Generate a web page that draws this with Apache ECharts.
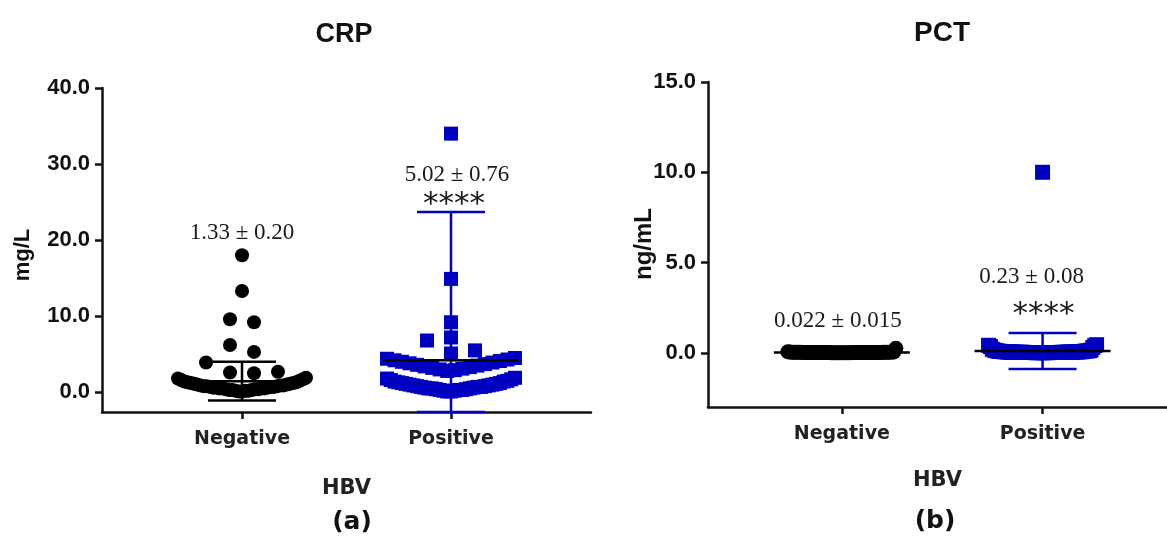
<!DOCTYPE html>
<html>
<head>
<meta charset="utf-8">
<script src="https://cdn.jsdelivr.net/npm/echarts@6/dist/echarts.min.js"></script>
<style>
  html, body { margin: 0; padding: 0; background: #fff; }
  #chart { width: 1167px; height: 547px; }
</style>
</head>
<body>
<div id="chart"></div>
<script>
// groups on the x axis
var groups = ['Negative', 'Positive'];

// CRP (mg/L), one value per patient
var crpNegative = [0.1, 0.1, 0.2, 0.2, 0.2, 0.3, 0.3, 0.3, 0.4, 0.4, 0.4, 0.5, 0.5, 0.5, 0.5,
    0.6, 0.6, 0.6, 0.7, 0.7, 0.7, 0.8, 0.8, 0.8, 0.9, 0.9, 0.9, 1.0, 1.0, 1.1, 1.1, 1.2, 1.2,
    1.3, 1.3, 1.4, 1.5, 1.6, 1.7, 1.8, 1.9, 2.5, 2.6, 2.7, 3.9, 5.3, 6.2, 9.2, 9.6, 13.3, 18.0];
var crpPositive = [0.1, 0.1, 0.2, 0.2, 0.3, 0.3, 0.3, 0.4, 0.4, 0.5, 0.5, 0.5, 0.6, 0.6, 0.7,
    0.7, 0.7, 0.8, 0.8, 0.9, 0.9, 1.0, 1.0, 1.1, 1.1, 1.2, 1.2, 1.3, 1.4, 1.4, 1.5, 1.6, 1.7,
    1.8, 1.9, 2.8, 2.9, 3.0, 3.1, 3.2, 3.3, 3.4, 3.5, 3.6, 3.7, 3.8, 3.9, 4.0, 4.1, 4.2, 4.3,
    4.4, 4.5, 5.1, 5.5, 6.8, 7.2, 9.2, 14.9, 34.0];
// mean line and error bar ends as drawn
var crpMean = [1.45, 4.2];
var crpLow = [-1.1, -2.6];
var crpHigh = [4.0, 23.7];
var crpNotes = ['1.33 ± 0.20', '5.02 ± 0.76'];
var crpNoteY = [21.0, 28.6];
var crpStars = ['', '****'];
var crpStarY = [0, 24.6];
var crpTicks = [0, 10, 20, 30, 40];

// PCT (ng/mL)
var pctNegative = [0.01, 0.01, 0.01, 0.01, 0.01, 0.01, 0.01, 0.01, 0.01, 0.01, 0.02, 0.02,
    0.02, 0.02, 0.02, 0.02, 0.02, 0.02, 0.02, 0.02, 0.02, 0.02, 0.02, 0.02, 0.02, 0.02, 0.02,
    0.02, 0.02, 0.02, 0.02, 0.02, 0.02, 0.02, 0.02, 0.02, 0.02, 0.03, 0.03, 0.03, 0.03, 0.03,
    0.03, 0.03, 0.03, 0.03, 0.04, 0.04, 0.05, 0.06, 0.25];
var pctPositive = [0.01, 0.01, 0.01, 0.01, 0.01, 0.01, 0.01, 0.01, 0.02, 0.02, 0.02, 0.02,
    0.02, 0.02, 0.02, 0.02, 0.02, 0.02, 0.02, 0.03, 0.03, 0.03, 0.03, 0.03, 0.03, 0.03, 0.03,
    0.03, 0.04, 0.04, 0.04, 0.04, 0.04, 0.04, 0.05, 0.05, 0.05, 0.05, 0.05, 0.06, 0.06, 0.06,
    0.06, 0.08, 0.08, 0.08, 0.1, 0.1, 0.1, 0.12, 0.12, 0.15, 0.15, 0.2, 0.3, 0.35, 0.4, 0.42,
    0.45, 10.0];
var pctMean = [0.02, 0.1];
var pctLow = [0.007, -0.9];
var pctHigh = [0.037, 1.1];
var pctNotes = ['0.022 ± 0.015', '0.23 ± 0.08'];
var pctNoteY = [1.77, 4.2];
var pctStars = ['', '****'];
var pctStarY = [0, 2.1];
var pctTicks = [0, 5, 10, 15];

var BLUE = '#0000c0';
var INK = '#111';

// plot boxes in px
var boxA = {left: 102, top: 88, width: 489, height: 324, xMin: 0.33, xMax: 2.67, yMin: -2.6, yMax: 40};
var boxB = {left: 708, top: 82, width: 459, height: 325, xMin: 0.333, xMax: 2.62, yMin: -3, yMax: 15};

// spread points sideways in rows, lowest in the middle (like a prism scatter dot plot)
function swarm(values, cat, box, opt) {
    var xPx = box.width / (box.xMax - box.xMin);
    var yPx = box.height / (box.yMax - box.yMin);
    var sorted = values.slice().sort(function (a, b) { return a - b; });
    var rows = [], cur = null;
    sorted.forEach(function (v) {
        if (!cur || (v - cur.start) * yPx > opt.rowPx) {
            cur = {start: v, vals: []};
            rows.push(cur);
        }
        cur.vals.push(v);
    });
    var pts = [];
    rows.forEach(function (r) {
        var n = r.vals.length;
        var step = n > 1 ? Math.min(opt.step, opt.width / (n - 1)) : 0;
        var slots = [];
        for (var j = 0; j < n; j++) slots.push((j - (n - 1) / 2) * step);
        // nearest to the middle first; small rows start on the right, wide rows on the left
        var side = n <= 4 ? -1 : 1;
        slots.sort(function (a, b) { return Math.abs(a) - Math.abs(b) || side * (a - b); });
        r.vals.forEach(function (v, k) {
            pts.push([cat + slots[k] / xPx, v]);
        });
    });
    return pts;
}

// mean line + error bar, half widths in px
function errorBars(gridIndex, mean, low, high, colors) {
    var data = mean.map(function (m, i) { return [i + 1, m, low[i], high[i], i]; });
    return {
        type: 'custom',
        xAxisIndex: gridIndex,
        yAxisIndex: gridIndex,
        z: 5,
        clip: false,
        silent: true,
        data: data,
        renderItem: function (params, api) {
            var x = api.value(0);
            var c = colors[api.value(4)];
            var pm = api.coord([x, api.value(1)]);
            var pl = api.coord([x, api.value(2)]);
            var ph = api.coord([x, api.value(3)]);
            var cap = 34, half = 68;
            function seg(x1, y1, x2, y2, color) {
                return {type: 'line', shape: {x1: x1, y1: y1, x2: x2, y2: y2},
                    style: {stroke: color, lineWidth: 2.5}};
            }
            return {
                type: 'group',
                children: [
                    seg(pl[0], pl[1], ph[0], ph[1], c),
                    seg(ph[0] - cap, ph[1], ph[0] + cap, ph[1], c),
                    seg(pl[0] - cap, pl[1], pl[0] + cap, pl[1], c),
                    seg(pm[0] - half, pm[1], pm[0] + half, pm[1], '#000')
                ]
            };
        }
    };
}

function notes(gridIndex, texts, ys, size, family, offsets) {
    var data = [];
    texts.forEach(function (t, i) {
        if (!t) return;
        data.push({value: [i + 1, ys[i]], label: {formatter: t, offset: offsets[i]}});
    });
    return {
        type: 'scatter',
        xAxisIndex: gridIndex,
        yAxisIndex: gridIndex,
        symbolSize: 0,
        silent: true,
        z: 6,
        data: data,
        itemStyle: {opacity: 1},
        label: {show: true, position: 'inside', color: '#1a1a1a', opacity: 1,
            fontSize: size, fontFamily: family}
    };
}

function dots(name, gridIndex, values, cat, box, opt, symbol, size, color) {
    return {
        type: 'scatter', name: name, xAxisIndex: gridIndex, yAxisIndex: gridIndex,
        symbol: symbol, symbolSize: size, z: 3,
        itemStyle: {color: color, opacity: 1},
        data: swarm(values, cat, box, opt)
    };
}

function xAxisFor(gridIndex, box, nameGap) {
    return {
        type: 'value', gridIndex: gridIndex, min: box.xMin, max: box.xMax,
        name: 'HBV', nameLocation: 'middle', nameGap: nameGap,
        nameTextStyle: {fontFamily: 'DejaVu Sans', fontWeight: 'bold', fontSize: 21, color: '#222'},
        splitLine: {show: false},
        axisLine: {onZero: false, lineStyle: {color: INK, width: 2.5}},
        axisTick: {customValues: [1, 2], length: 7, lineStyle: {color: INK, width: 2.5}},
        axisLabel: {customValues: [1, 2], margin: 18, fontFamily: 'DejaVu Sans', fontWeight: 'bold',
            fontSize: 19, color: '#222',
            formatter: function (v) { return groups[Math.round(v) - 1]; }}
    };
}

function yAxisFor(gridIndex, box, ticks) {
    return {
        type: 'value', gridIndex: gridIndex, min: box.yMin, max: box.yMax,
        splitLine: {show: false},
        axisLine: {onZero: false, lineStyle: {color: INK, width: 2.5}},
        axisTick: {customValues: ticks, length: 7, lineStyle: {color: INK, width: 2.5}},
        axisLabel: {customValues: ticks, margin: 12, fontFamily: 'Liberation Sans', fontWeight: 'bold',
            fontSize: 22, color: '#111',
            formatter: function (v) { return v.toFixed(1); }}
    };
}

var crpOpt = {rowPx: 14, step: 24, width: 128};
var pctOpt = {rowPx: 14, step: 24, width: 108};

var chart = echarts.init(document.getElementById('chart'));
var option = {
    animation: false,
    backgroundColor: '#fff',
    grid: [
        {left: boxA.left, top: boxA.top, width: boxA.width, height: boxA.height},
        {left: boxB.left, top: boxB.top, width: boxB.width, height: boxB.height}
    ],
    xAxis: [xAxisFor(0, boxA, 66), xAxisFor(1, boxB, 63)],
    yAxis: [yAxisFor(0, boxA, crpTicks), yAxisFor(1, boxB, pctTicks)],
    graphic: [
        {type: 'text', x: 344, y: 35, style: {text: 'CRP', align: 'center', verticalAlign: 'middle',
            font: 'bold 27px "Liberation Sans"', fill: '#111'}},
        {type: 'text', x: 942, y: 33, style: {text: 'PCT', align: 'center', verticalAlign: 'middle',
            font: 'bold 28px "Liberation Sans"', fill: '#111'}},
        {type: 'text', x: 23, y: 255, rotation: Math.PI / 2, style: {text: 'mg/L', align: 'center',
            verticalAlign: 'middle', font: 'bold 22px "Liberation Sans"', fill: '#111'}},
        {type: 'text', x: 644, y: 244, rotation: Math.PI / 2, style: {text: 'ng/mL', align: 'center',
            verticalAlign: 'middle', font: 'bold 24px "Liberation Sans"', fill: '#111'}},
        {type: 'text', x: 352, y: 522, style: {text: '(a)', align: 'center', verticalAlign: 'middle',
            font: 'bold 25px "DejaVu Sans"', fill: '#111'}},
        {type: 'text', x: 935, y: 521, style: {text: '(b)', align: 'center', verticalAlign: 'middle',
            font: 'bold 25px "DejaVu Sans"', fill: '#111'}}
    ],
    series: [
        dots('CRP negative', 0, crpNegative, 1, boxA, crpOpt, 'circle', 14, '#000'),
        dots('CRP positive', 0, crpPositive, 2, boxA, crpOpt, 'rect', 14, BLUE),
        errorBars(0, crpMean, crpLow, crpHigh, ['#000', BLUE]),
        notes(0, crpNotes, crpNoteY, 23, 'Liberation Serif', [[0, 0], [6, 0]]),
        notes(0, crpStars, crpStarY, 31, 'DejaVu Sans', [[0, 0], [3, 0]]),

        dots('PCT negative', 1, pctNegative, 1, boxB, pctOpt, 'circle', 15, '#000'),
        dots('PCT positive', 1, pctPositive, 2, boxB, pctOpt, 'rect', 15, BLUE),
        errorBars(1, pctMean, pctLow, pctHigh, ['#000', BLUE]),
        notes(1, pctNotes, pctNoteY, 23, 'Liberation Serif', [[-4, 0], [-11, 0]]),
        notes(1, pctStars, pctStarY, 31, 'DejaVu Sans', [[0, 0], [1, 0]])
    ]
};
chart.setOption(option);
</script>
</body>
</html>
